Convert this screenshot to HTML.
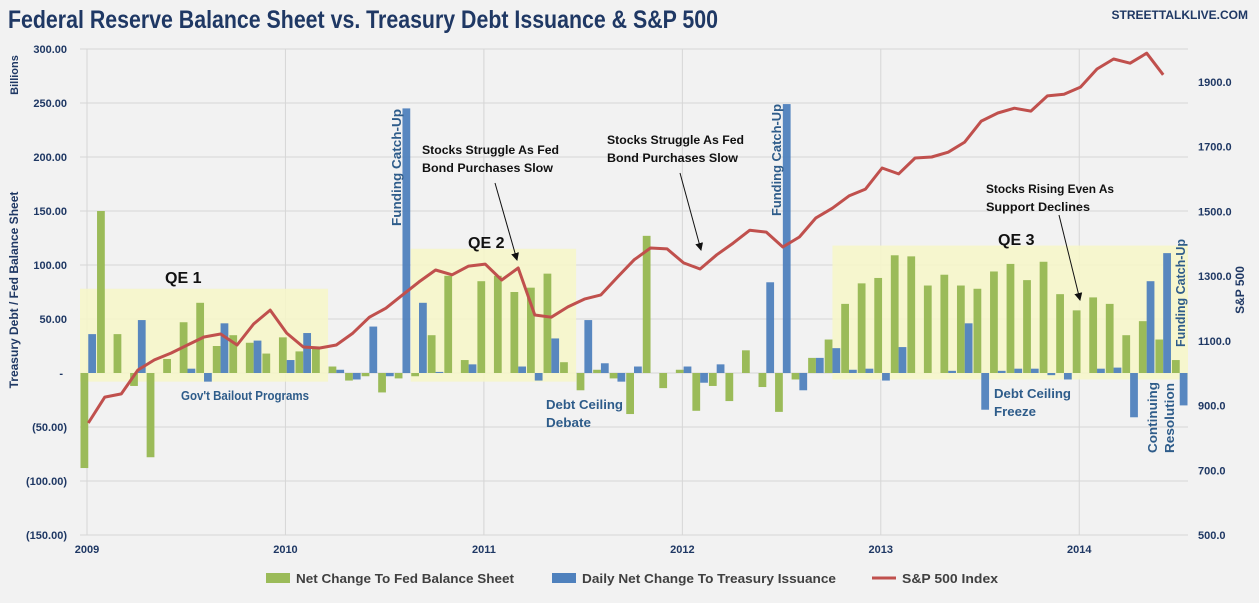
<!DOCTYPE html>
<html><head><meta charset="utf-8"><style>
html,body{margin:0;padding:0;background:#f2f2f2;}
svg{display:block;font-family:"Liberation Sans",sans-serif;}
</style></head><body>
<svg id="chart" width="1259" height="603" viewBox="0 0 1259 603"></svg>
<script>
const months = 67;
const startYear = 2009;
const yearLabels = ["2009","2010","2011","2012","2013","2014"];
const leftTicks = [300,250,200,150,100,50,0,-50,-100,-150];
const rightTicks = [1900,1700,1500,1300,1100,900,700,500];
const fedChange = [-88,150,36,-12,-78,13,47,65,25,35,28,18,33,20,23,6,-7,-3,-18,-5,-3,35,90,12,85,90,75,79,92,10,-16,3,-5,-38,127,-14,3,-35,-12,-26,21,-13,-36,-6,14,31,64,83,88,109,108,81,91,81,78,94,101,86,103,73,58,70,64,35,48,31,12];
const treasuryChange = [36,0,0,49,0,0,4,-8,46,0,30,0,12,37,0,3,-6,43,-3,245,65,1,0,8,0,0,6,-7,32,0,49,9,-8,6,0,0,6,-9,8,0,0,84,249,-16,14,23,3,4,-7,24,0,0,2,46,-34,2,4,4,-2,-6,0,4,5,-41,85,111,-30];
const spx = [846,926,936,1010,1041,1062,1087,1112,1121,1087,1152,1195,1124,1081,1078,1087,1124,1173,1201,1242,1282,1319,1304,1331,1337,1288,1325,1180,1173,1205,1229,1242,1297,1350,1387,1384,1341,1322,1366,1402,1442,1436,1390,1421,1480,1510,1548,1569,1634,1616,1665,1668,1683,1714,1779,1804,1819,1810,1857,1862,1884,1940,1971,1958,1989,1922];

const NS="http://www.w3.org/2000/svg";
const svg=document.getElementById('chart');
const X0=80,X1=1188,MW=(X1-X0)/months;
const yL=v=>373-v*1.08;
const yR=v=>535-(v-500)*0.3236;
const xM=i=>X0+MW*i;
function mk(tag,attrs,parent){const e=document.createElementNS(NS,tag);for(const k in attrs)e.setAttribute(k,attrs[k]);(parent||svg).appendChild(e);return e;}
function txt(s,attrs,parent){const e=mk('text',attrs,parent);e.textContent=s;return e;}

const grid=mk('g',{});


leftTicks.forEach(v=>{mk('line',{x1:X0,x2:X1,y1:yL(v),y2:yL(v),stroke:'#d6d6d6','stroke-width':1},grid);});
yearLabels.forEach((y,i)=>{const x=xM(i*12)+7;mk('line',{x1:x,x2:x,y1:yL(300),y2:yL(-150),stroke:'#d6d6d6','stroke-width':1},grid);});

const qe=[[0,15,78,-8,'qe1-region'],[20,30,115,-8,'qe2-region'],[45.5,67,118,-6,'qe3-region']];
qe.forEach(q=>{const r=mk('rect',{x:xM(q[0]),y:yL(q[2]),width:xM(q[1])-xM(q[0]),height:yL(q[3])-yL(q[2]),fill:'#f7f7c8',opacity:0.85});

});

const bw=MW*0.5;
fedChange.forEach((v,i)=>{const y=Math.min(yL(v),yL(0));const r=mk('rect',{x:xM(i)+0.5,y:y,width:bw-0.5,height:Math.abs(yL(v)-yL(0)),fill:'#9bbb59'});

});
treasuryChange.forEach((v,i)=>{const y=Math.min(yL(v),yL(0));const r=mk('rect',{x:xM(i)+bw,y:y,width:bw-0.5,height:Math.abs(yL(v)-yL(0)),fill:'#4f81bd',opacity:0.95});

});

const pts=spx.map((v,i)=>(xM(i)+MW/2).toFixed(1)+','+yR(v).toFixed(1)).join(' ');
const pl=mk('polyline',{points:pts,fill:'none',stroke:'#c0504d','stroke-width':3,'stroke-linejoin':'round'});



leftTicks.forEach(v=>{const s=v===0?'-':(v<0?'('+(-v).toFixed(2)+')':v.toFixed(2));const t=txt(s,{x:v===0?63:67,y:yL(v)+4,'text-anchor':'end','font-size':11,'font-weight':'bold',fill:'#1f3864'});

});
rightTicks.forEach(v=>{const t=txt(v.toFixed(1),{x:1198,y:yR(v)+4,'font-size':11,'font-weight':'bold',fill:'#1f3864'});

});
yearLabels.forEach((y,i)=>{const t=txt(y,{x:xM(i*12)+7,y:553,'text-anchor':'middle','font-size':11,'font-weight':'bold',fill:'#1f3864'});

});
</script>
<script>
const s2=document.getElementById('chart');
function T(s,x,y,o){const e=document.createElementNS("http://www.w3.org/2000/svg",'text');e.setAttribute('x',x);e.setAttribute('y',y);for(const k in o)e.setAttribute(k,o[k]);e.textContent=s;s2.appendChild(e);return e;}
function L(x1,y1,x2,y2){const e=document.createElementNS("http://www.w3.org/2000/svg",'line');e.setAttribute('x1',x1);e.setAttribute('y1',y1);e.setAttribute('x2',x2);e.setAttribute('y2',y2);e.setAttribute('stroke','#111');e.setAttribute('stroke-width','1');e.setAttribute('marker-end','url(#arr)');s2.appendChild(e);return e;}
const defs=document.createElementNS("http://www.w3.org/2000/svg",'defs');defs.innerHTML='<marker id="arr" markerWidth="8" markerHeight="8" refX="7" refY="4" orient="auto"><path d="M0,0 L8,4 L0,8 z" fill="#111"/></marker>';s2.appendChild(defs);
const N='"Liberation Sans",sans-serif';
let e;
e=T('Federal Reserve Balance Sheet vs. Treasury Debt Issuance & S&P 500',8,28,{'font-size':25,'font-weight':'bold',fill:'#1f3864','font-family':N,textLength:710,lengthAdjust:'spacingAndGlyphs'});


e=T('STREETTALKLIVE.COM',1248,19,{'font-size':12,'font-weight':'bold',fill:'#1f3864','text-anchor':'end'});


e=T('Treasury Debt / Fed Balance Sheet',18,290,{'font-size':12,'font-weight':'bold',fill:'#1f3864','text-anchor':'middle',transform:'rotate(-90 18 290)'});


e=T('Billions',18,75,{'font-size':11,'font-weight':'bold',fill:'#1f3864','text-anchor':'middle',transform:'rotate(-90 18 75)'});


e=T('S&P 500',1244,290,{'font-size':12,'font-weight':'bold',fill:'#1f3864','text-anchor':'middle',transform:'rotate(-90 1244 290)'});


const B={'font-size':16,'font-weight':'bold',fill:'#111','font-family':N};
e=T('QE 1',165,283,B);
e=T('QE 2',468,248,B);
e=T('QE 3',998,245,B);
const A={'font-size':12,'font-weight':'bold',fill:'#111','font-family':N};
function AT(s,x,y,w,name){const t=T(s,x,y,Object.assign({textLength:w,lengthAdjust:'spacingAndGlyphs'},A));}
AT('Stocks Struggle As Fed',422,154,137,'annotation-struggle-1');
AT('Bond Purchases Slow',422,172,131,'annotation-struggle-1b');
e=L(495,183,517,260);
AT('Stocks Struggle As Fed',607,144,137,'annotation-struggle-2');
AT('Bond Purchases Slow',607,162,131,'annotation-struggle-2b');
e=L(680,173,701,250);
AT('Stocks Rising Even As',986,193,128,'annotation-rising');
AT('Support Declines',986,211,104,'annotation-rising-b');
e=L(1059,215,1080,300);
const Bl={'font-size':13,'font-weight':'bold',fill:'#2e5c8a','font-family':N,lengthAdjust:'spacingAndGlyphs'};
function BT(s,x,y,w,name){const t=T(s,x,y,Object.assign({textLength:w},Bl));}
BT("Gov't Bailout Programs",181,400,128,'annotation-bailout');
BT('Debt Ceiling',546,409,77,'annotation-debt-ceiling');
BT('Debate',546,427,45,'annotation-debate');
BT('Debt Ceiling',994,398,77,'annotation-debt-ceiling-2');
BT('Freeze',994,416,42,'annotation-freeze');
function V(s,x,y,w,name){const o=Object.assign({textLength:w},Bl,{transform:'rotate(-90 '+x+' '+y+')'});const t=T(s,x,y,o);}
V('Funding Catch-Up',401,226,117,'annotation-funding-1');
V('Funding Catch-Up',781,216,112,'annotation-funding-2');
V('Continuing',1157,453,71,'annotation-continuing');
V('Resolution',1174,453,70,'annotation-resolution');
V('Funding Catch-Up',1185,347,108,'annotation-funding-3');
const lg=[['#9bbb59','Net Change To Fed Balance Sheet',266,'legend-fed',218],['#4f81bd','Daily Net Change To Treasury Issuance',552,'legend-treasury',254]];
lg.forEach(l=>{const r=document.createElementNS("http://www.w3.org/2000/svg",'rect');r.setAttribute('x',l[2]);r.setAttribute('y',573);r.setAttribute('width',24);r.setAttribute('height',10);r.setAttribute('fill',l[0]);s2.appendChild(r);
const t=T(l[1],l[2]+30,583,{'font-size':13,'font-weight':'bold',fill:'#404040','font-family':N,textLength:l[4],lengthAdjust:'spacingAndGlyphs'});});
const ll=document.createElementNS("http://www.w3.org/2000/svg",'line');ll.setAttribute('x1',872);ll.setAttribute('x2',896);ll.setAttribute('y1',578);ll.setAttribute('y2',578);ll.setAttribute('stroke','#c0504d');ll.setAttribute('stroke-width',3);s2.appendChild(ll);
e=T('S&P 500 Index',902,583,{'font-size':13,'font-weight':'bold',fill:'#404040','font-family':N,textLength:96,lengthAdjust:'spacingAndGlyphs'});
</script>
</body></html>
